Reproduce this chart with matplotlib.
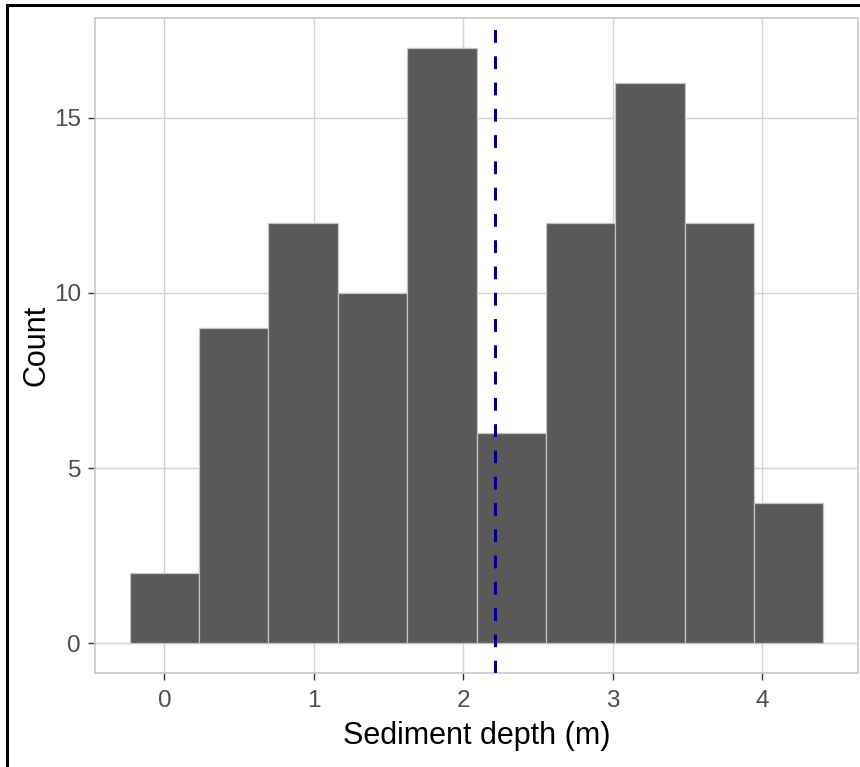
import numpy as np
import matplotlib.pyplot as plt
from matplotlib.patches import Rectangle

# histogram of sediment depth, 10 bins
bin_start = -0.232
bin_width = 0.464
counts = [2, 9, 12, 10, 17, 6, 12, 16, 12, 4]
mean_depth = 2.213

x_ticks = [0, 1, 2, 3, 4]
y_ticks = [0, 5, 10, 15]

plt.rcParams['font.family'] = ['Liberation Sans', 'DejaVu Sans']

fig = plt.figure(figsize=(8.6, 7.67), dpi=100)
ax = fig.add_axes([95 / 860, 94 / 767, 763 / 860, 655 / 767])

edges = bin_start + bin_width * np.arange(len(counts) + 1)
ax.bar(edges[:-1], counts, width=bin_width, align='edge',
       color='#595959', edgecolor='#c4c4c4', linewidth=0.9, zorder=2)

ax.axvline(mean_depth, color='#00008B', linewidth=2.2,
           dashes=(4.2, 4.4), zorder=3)

span = edges[-1] - edges[0]
ax.set_xlim(edges[0] - 0.05 * span, edges[-1] + 0.05 * span)
ax.set_ylim(-0.05 * max(counts), max(counts) * 1.05)

ax.set_xticks(x_ticks)
ax.set_yticks(y_ticks)
ax.grid(True, color='#d3d3d3', linewidth=1.0)
ax.set_axisbelow(True)

for s in ax.spines.values():
    s.set_color('#c8c8c8')
    s.set_linewidth(1.2)

ax.tick_params(axis='both', colors='#333333', labelcolor='#4d4d4d',
               labelsize=17.5, length=5, width=1.0, pad=5)
ax.tick_params(axis='x', pad=7)

ax.set_xlabel('Sediment depth (m)', fontsize=22, color='black', labelpad=7)
ax.set_ylabel('Count', fontsize=22, color='black', labelpad=2)

# black frame around the picture (right and bottom edges cut off)
fig.add_artist(Rectangle((7 / 860, -0.5), 2.0, 0.5 + 1 - 5 / 767,
                         transform=fig.transFigure, fill=False,
                         edgecolor='black', linewidth=2.2))

fig.savefig('out.png', dpi=100)
